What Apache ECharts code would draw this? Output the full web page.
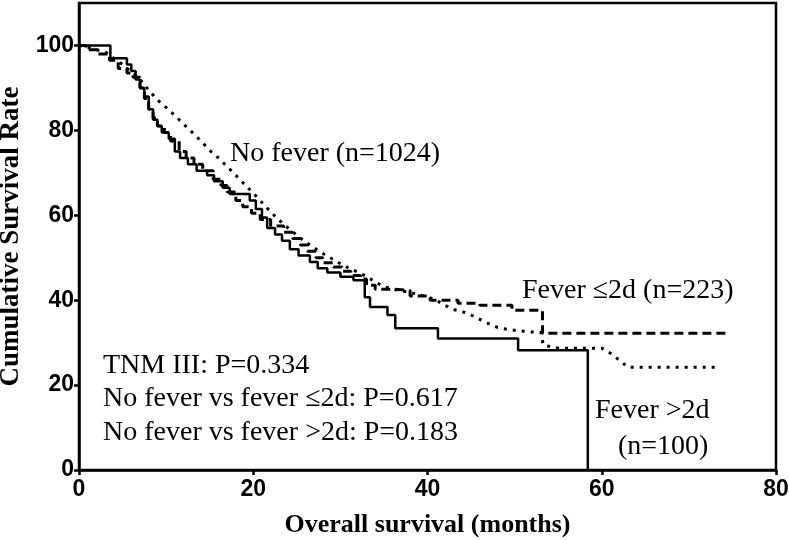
<!DOCTYPE html>
<html>
<head>
<meta charset="utf-8">
<script src="https://cdn.jsdelivr.net/npm/echarts@6/dist/echarts.min.js"></script>
<style>html,body{margin:0;padding:0;background:#fff}#c{width:789px;height:540px}</style>
</head>
<body>
<div id="c"></div>
<script>
// Ticks
const xTicks = [0, 20, 40, 60, 80];
const yTicks = [0, 20, 40, 60, 80, 100];

// No fever (n=1024) — dotted
const noFeverT = [0, 1, 2, 3, 4, 5, 6, 7, 8, 9, 10, 11, 12, 13, 14, 15, 16, 17, 18, 19, 20, 21, 22, 23, 24, 25, 26, 27, 28, 29, 30, 31, 32, 33, 34, 35, 36, 37, 38, 39, 40, 41, 42, 43, 44, 45, 46, 47, 48, 49, 50, 51, 52, 53, 53.3, 55, 60, 61, 62, 63, 73];
const noFeverS = [100, 99.5, 99, 98.5, 97, 95.5, 93.8, 92, 89.5, 87.2, 85.4, 83.5, 81.5, 79.5, 77.5, 75.3, 73.5, 71.5, 69.4, 67.3, 65.2, 63, 60.8, 58.8, 57, 55.3, 53.7, 52.3, 51, 49.8, 48.6, 47.5, 46.6, 45.6, 44.3, 43.2, 42.6, 42.2, 41.8, 41.3, 40.8, 40, 38.8, 37.8, 37.3, 36.5, 35.5, 34.5, 33.6, 33.2, 32.9, 32.7, 32.5, 32.4, 29.4, 28.7, 28.7, 27.5, 25.9, 24.2, 24.2];

// Fever <=2d (n=223) — dashed, step
const fever2T = [0, 0.8, 2.2, 3.5, 4.5, 5.5, 6.2, 7, 7.5, 8, 8.5, 9, 9.8, 10.5, 11.5, 12.3, 13.2, 14.2, 15.4, 16.3, 17, 18, 18.8, 19.8, 20.8, 22, 23.5, 24.5, 25.4, 26.2, 27.2, 28, 29.2, 30.2, 31.2, 32.3, 33, 34, 36, 38, 40.3, 43.5, 46, 49.7, 53.2, 74.4];
const fever2S = [100, 99, 98, 96.5, 94.6, 93.5, 92.5, 90, 87.5, 85, 83, 81, 79.5, 77.5, 75, 73.5, 72, 70.5, 68.5, 67, 65.5, 63.5, 62, 60.5, 59, 57.5, 56, 54.5, 53, 51.5, 50, 48.8, 47.8, 46.8, 45.8, 45, 43.5, 42.6, 42.3, 41, 40, 39.3, 38.8, 37.6, 32.2, 32.2];

// Fever >2d (n=100) — solid, step
const feverGT2T = [0, 3.6, 5.5, 6, 6.5, 7, 7.5, 8, 8.5, 9, 9.5, 10.3, 11, 11.6, 12.5, 13.5, 14.7, 15.5, 16.5, 17.3, 19.6, 20.3, 21, 21.6, 22.5, 23.3, 24.2, 25.2, 26.5, 27.4, 28.5, 30, 31.5, 32.8, 33.4, 35.4, 36.3, 41.2, 50.4, 58.4];
const feverGT2S = [100, 97, 95.5, 94, 92, 90, 88, 85, 82.5, 81, 79.5, 78, 75, 73.5, 72, 70.5, 69.4, 68, 66.5, 65, 63.5, 61.5, 59.5, 57, 55.5, 54, 52, 50.5, 49, 47.5, 46.5, 45.5, 44.7, 40.7, 38.4, 36.5, 33.4, 31, 28.2, 0];

const zip = (a, b) => a.map((v, i) => [v, b[i]]);

const serif = '"Liberation Serif", "Times New Roman", serif';
const sans = '"Liberation Sans", Arial, sans-serif';

const chart = echarts.init(document.getElementById('c'), null, {renderer: 'canvas'});
chart.setOption({
  animation: false,
  backgroundColor: '#fff',
  grid: {left: 79, right: 13, top: 3, bottom: 70, show: true, borderColor: '#000', borderWidth: 2.5, containLabel: false, outerBoundsMode: 'none'},
  xAxis: {
    type: 'value', min: 0, max: 80, interval: 20,
    name: 'Overall survival (months)', nameLocation: 'middle', nameGap: 42,
    nameTextStyle: {fontFamily: serif, fontWeight: 'bold', fontSize: 26, color: '#000'},
    axisLine: {show: true, lineStyle: {color: '#000', width: 2.5}},
    axisTick: {show: true, inside: false, length: 5, lineStyle: {color: '#000', width: 2.5}, customValues: xTicks},
    axisLabel: {fontFamily: sans, fontWeight: 'bold', fontSize: 23, color: '#000', margin: 8, customValues: xTicks},
    splitLine: {show: false}
  },
  yAxis: {
    type: 'value', min: 0, max: 110, interval: 20,
    name: 'Cumulative Survival Rate', nameLocation: 'middle', nameGap: 50,
    nameTextStyle: {fontFamily: serif, fontWeight: 'bold', fontSize: 27, color: '#000'},
    axisLine: {show: true, lineStyle: {color: '#000', width: 2.5}},
    axisTick: {show: true, inside: false, length: 5, lineStyle: {color: '#000', width: 2.5}, customValues: yTicks},
    axisLabel: {fontFamily: sans, fontWeight: 'bold', fontSize: 23, color: '#000', margin: 5, customValues: yTicks},
    splitLine: {show: false}
  },
  series: [
    {name: 'No fever (n=1024)', type: 'line', data: zip(noFeverT, noFeverS), showSymbol: false, symbol: 'none',
      lineStyle: {color: '#000', width: 3, type: [3, 6], cap: 'butt'}},
    {name: 'Fever ≤2d (n=223)', type: 'line', step: 'end', data: zip(fever2T, fever2S), showSymbol: false, symbol: 'none',
      lineStyle: {color: '#000', width: 3, type: [9, 5], cap: 'butt'}},
    {name: 'Fever >2d (n=100)', type: 'line', step: 'end', data: zip(feverGT2T, feverGT2S), showSymbol: false, symbol: 'none',
      lineStyle: {color: '#000', width: 2.5, type: 'solid'}}
  ],
  graphic: [
    {type: 'text', left: 230, top: 155 - 15, style: {text: 'No fever (n=1024)', font: '28px ' + serif, fill: '#000'}},
    {type: 'text', left: 522, top: 292 - 15, style: {text: 'Fever ≤2d (n=223)', font: '28px ' + serif, fill: '#000'}},
    {type: 'text', left: 595, top: 412 - 15, style: {text: 'Fever >2d', font: '28px ' + serif, fill: '#000'}},
    {type: 'text', left: 618, top: 448 - 15, style: {text: '(n=100)', font: '28px ' + serif, fill: '#000'}},
    {type: 'text', left: 103, top: 367 - 15, style: {text: 'TNM III: P=0.334', font: '28px ' + serif, fill: '#000'}},
    {type: 'text', left: 103, top: 400 - 15, style: {text: 'No fever vs fever ≤2d: P=0.617', font: '28px ' + serif, fill: '#000'}},
    {type: 'text', left: 103, top: 434 - 15, style: {text: 'No fever vs fever >2d: P=0.183', font: '28px ' + serif, fill: '#000'}}
  ]
});
</script>
</body>
</html>
